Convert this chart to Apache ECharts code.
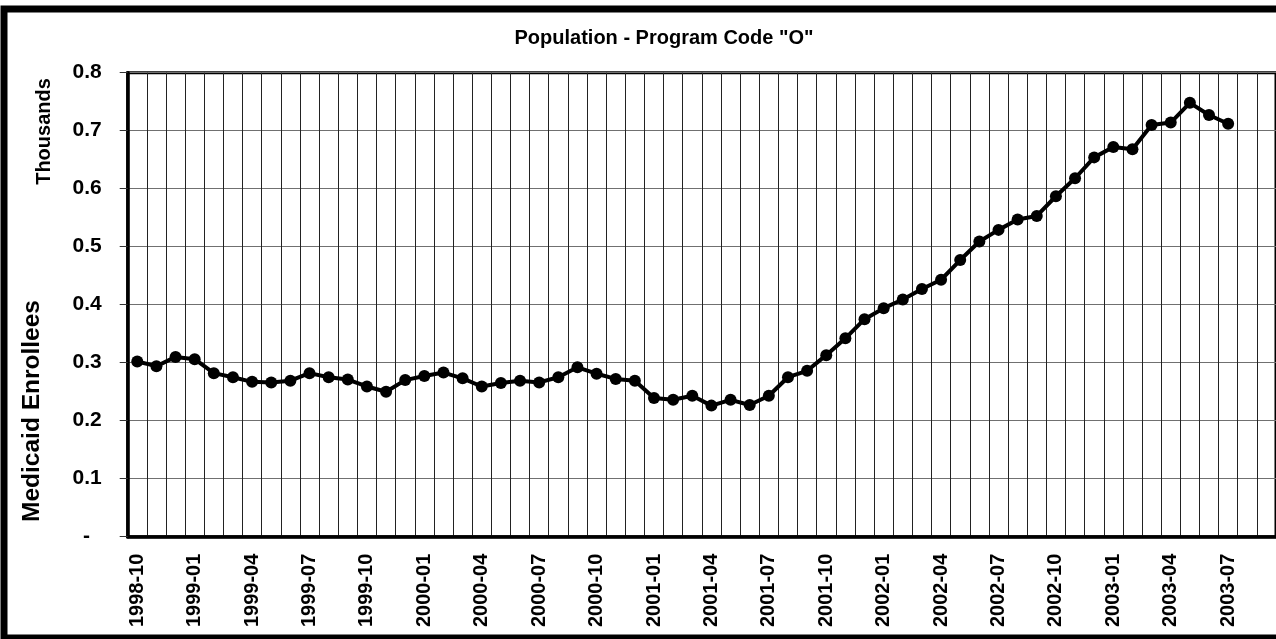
<!DOCTYPE html>
<html>
<head>
<meta charset="utf-8">
<script src="https://cdn.jsdelivr.net/npm/echarts@6/dist/echarts.min.js"></script>
<style>
  html, body { margin: 0; padding: 0; background: #fff; }
  #chart { width: 1276px; height: 639px; }
</style>
</head>
<body>
<div id="chart"></div>
<script>
// months shown on the axis (the last two have no value yet)
const months = [
  "1998-10", "1998-11", "1998-12",
  "1999-01", "1999-02", "1999-03", "1999-04", "1999-05", "1999-06",
  "1999-07", "1999-08", "1999-09", "1999-10", "1999-11", "1999-12",
  "2000-01", "2000-02", "2000-03", "2000-04", "2000-05", "2000-06",
  "2000-07", "2000-08", "2000-09", "2000-10", "2000-11", "2000-12",
  "2001-01", "2001-02", "2001-03", "2001-04", "2001-05", "2001-06",
  "2001-07", "2001-08", "2001-09", "2001-10", "2001-11", "2001-12",
  "2002-01", "2002-02", "2002-03", "2002-04", "2002-05", "2002-06",
  "2002-07", "2002-08", "2002-09", "2002-10", "2002-11", "2002-12",
  "2003-01", "2003-02", "2003-03", "2003-04", "2003-05", "2003-06",
  "2003-07", "2003-08", "2003-09",
];

// enrollees, in thousands
const enrollees = [
  0.302, 0.294, 0.310,
  0.306, 0.282, 0.275, 0.267, 0.266, 0.269,
  0.282, 0.275, 0.271, 0.259, 0.250, 0.270,
  0.277, 0.283, 0.273, 0.259, 0.265, 0.269,
  0.266, 0.275, 0.292, 0.281, 0.272, 0.269,
  0.239, 0.236, 0.243, 0.226, 0.236, 0.227,
  0.243, 0.275, 0.286, 0.313, 0.342, 0.375,
  0.394, 0.409, 0.427, 0.443, 0.477, 0.509,
  0.529, 0.547, 0.553, 0.587, 0.618, 0.654,
  0.672, 0.668, 0.710, 0.714, 0.748, 0.727,
  0.712,
];

const chart = echarts.init(document.getElementById("chart"));
const font = "'Liberation Sans', Arial, sans-serif";

chart.setOption({
  animation: false,
  title: {
    text: 'Population - Program Code "O"',
    left: 659,
    top: 23,
    textAlign: "center",
    textStyle: { fontFamily: font, fontWeight: "bold", fontSize: 20, color: "#000" },
  },
  grid: {
    left: 127.7,
    top: 72.7,
    right: -1.9,
    bottom: 639 - 536.7,
    show: true,
    borderColor: "#000",
    borderWidth: 3,
  },
  xAxis: {
    type: "category",
    data: months,
    boundaryGap: true,
    axisLine: { lineStyle: { color: "#000", width: 3.5 } },
    axisTick: { interval: 0, length: 6, lineStyle: { color: "#333" } },
    axisLabel: {
      interval: 2,
      rotate: 90,
      margin: 17,
      color: "#000",
      fontFamily: font,
      fontWeight: "bold",
      fontSize: 20,
    },
    splitLine: { show: true, interval: 0, lineStyle: { color: "#222", width: 1 } },
  },
  yAxis: {
    type: "value",
    min: 0,
    max: 0.8,
    interval: 0.1,
    axisLine: { show: true, lineStyle: { color: "#000", width: 3.5 } },
    axisTick: { show: true, length: 8, lineStyle: { color: "#333" } },
    axisLabel: {
      margin: 26,
      color: "#000",
      fontFamily: font,
      fontWeight: "bold",
      fontSize: 21,
      formatter: (v) => (v === 0 ? "-  " : v.toFixed(1)),
    },
    splitLine: { lineStyle: { color: "#707070", width: 1 } },
  },
  series: [
    {
      type: "line",
      data: enrollees,
      symbol: "circle",
      symbolSize: 12,
      lineStyle: { color: "#000", width: 4 },
      itemStyle: { color: "#000" },
    },
  ],
  graphic: [
    {
      type: "rect",
      shape: { x: 4, y: 9, width: 1290, height: 629 },
      style: { fill: "none", stroke: "#000", lineWidth: 7 },
      silent: true,
    },
    {
      type: "text",
      x: 44.5,
      y: 131.5,
      rotation: Math.PI / 2,
      style: {
        text: "Thousands",
        fontFamily: font,
        fontWeight: "bold",
        fontSize: 20,
        fill: "#000",
        align: "center",
        verticalAlign: "middle",
      },
    },
    {
      type: "text",
      x: 32.5,
      y: 411,
      rotation: Math.PI / 2,
      style: {
        text: "Medicaid Enrollees",
        fontFamily: font,
        fontWeight: "bold",
        fontSize: 24.5,
        fill: "#000",
        align: "center",
        verticalAlign: "middle",
      },
    },
  ],
});
</script>
</body>
</html>
